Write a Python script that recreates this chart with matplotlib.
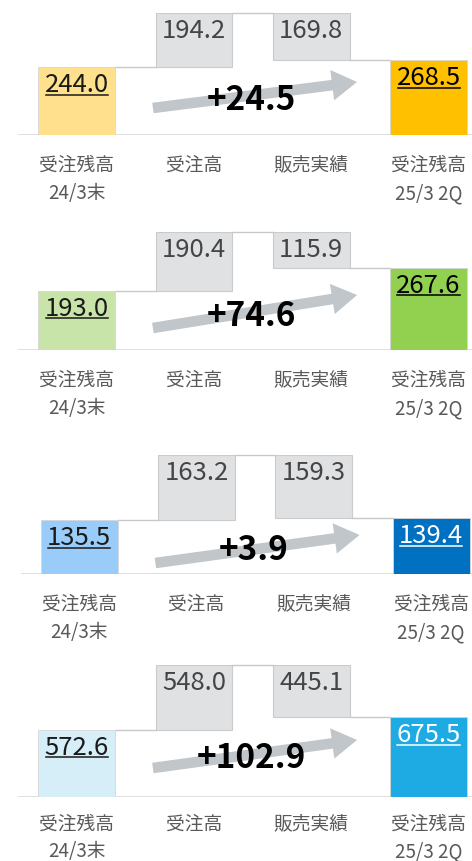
import matplotlib.pyplot as plt
from matplotlib.lines import Line2D
from matplotlib.transforms import IdentityTransform

plt.rcParams['font.family'] = ['Noto Sans CJK JP', 'DejaVu Sans']

# data (one row per panel)
categories = ['受注残高\n24/3末', '受注高', '販売実績', '受注残高\n25/3 2Q']
start_vals = [244.0, 193.0, 135.5, 572.6]   # 受注残高 24/3末
order_vals = [194.2, 190.4, 163.2, 548.0]   # 受注高
sales_vals = [169.8, 115.9, 159.3, 445.1]   # 販売実績
end_vals = [268.5, 267.6, 139.4, 675.5]     # 受注残高 25/3 2Q
delta_labels = ['+24.5', '+74.6', '+3.9', '+102.9']

# styles
light_colors = ['#FFE08C', '#C9E4A8', '#99CCF9', '#D5EEF8']
dark_colors = ['#FFC000', '#92D050', '#0070C0', '#1EABE3']
end_text_colors = ['black', 'black', 'white', 'white']
gray_fill = '#DFE1E3'
gray_edge = '#C9CBCD'

W, H = 472, 861
# panel layout in pixels: baseline y, top y, x shift
baselines = [135, 350, 574, 797]
tops = [13, 232, 455, 665]
shifts = [0, 0, 2.5, 0]
arrow_tail = [27, 22, 11, 29]   # px above baseline
arrow_tip = [53, 55, 39, 57]
delta_y = [35, 33, 24, 39]
label_pad = [14, 14, 14, 12]    # points below baseline
label_spacing = [1.5, 1.5, 1.5, 1.42]

fig = plt.figure(figsize=(W / 100, H / 100), dpi=100)
bw = 0.655
underlined = []

for p in range(4):
    base, top, s = baselines[p], tops[p], shifts[p]
    ax = fig.add_axes([(18 + s) / W, (H - base) / H, 454 / W, (base - top) / H])
    start, orders, sales, end = start_vals[p], order_vals[p], sales_vals[p], end_vals[p]
    peak = start + orders
    ax.set_xlim(-0.5, 3.37)
    ax.set_ylim(0, peak)
    ax.axis('off')

    ax.axhline(0, color='#D9D9D9', lw=1.2, zorder=1)
    ax.bar(0, start, width=bw, color=light_colors[p], edgecolor='#D6D6D6', lw=0.6, zorder=2)
    ax.bar(1, orders, bottom=start, width=bw, color=gray_fill, edgecolor=gray_edge, lw=0.8, zorder=2)
    ax.bar(2, sales, bottom=peak - sales, width=bw, color=gray_fill, edgecolor=gray_edge, lw=0.8, zorder=2)
    ax.bar(3, end, width=bw, color=dark_colors[p], edgecolor='#D6D6D6', lw=0.6, zorder=2)

    # connectors
    for x0, y in [(0, start), (1, peak), (2, peak - sales)]:
        ax.plot([x0 + bw / 2, x0 + 1 - bw / 2], [y, y], color='#C8C8C8', lw=1, zorder=1,
                clip_on=False)

    # value labels (baseline 25 px below bar top)
    for x, y, txt, col, ul in [(0, start, start, '#1A1A1A', True),
                               (1, peak, orders, '#454545', False),
                               (2, peak, sales, '#454545', False),
                               (3, end, end, end_text_colors[p], True)]:
        t = ax.annotate(f'{txt:.1f}', xy=(x, y), xytext=(0, -18), textcoords='offset points',
                        ha='center', va='baseline', fontsize=18.5, color=col, zorder=5)
        if ul:
            underlined.append((t, ax, x, y, col))

    # arrow and change
    ax.annotate('', xy=(2.39, arrow_tip[p]), xytext=(0.65, arrow_tail[p]),
                xycoords=('data', 'axes pixels'), textcoords=('data', 'axes pixels'),
                arrowprops=dict(arrowstyle='simple,head_length=0.9,head_width=1.1,tail_width=0.38',
                                mutation_scale=20, color='#C0C6CA', lw=0, shrinkA=0, shrinkB=0),
                annotation_clip=False, zorder=3)
    ax.annotate(delta_labels[p], xy=(1.49, delta_y[p]), xycoords=('data', 'axes pixels'),
                ha='center', va='center', fontsize=24, fontweight='bold', color='black',
                annotation_clip=False, zorder=6)

    # category labels
    for i, c in enumerate(categories):
        ax.annotate(c, xy=(i, 0), xytext=(0, -label_pad[p]), textcoords='offset points',
                    ha='center', va='top', fontsize=13.5, color='#595959',
                    linespacing=label_spacing[p], annotation_clip=False)

fig.canvas.draw()
renderer = fig.canvas.get_renderer()
for t, ax, x, y, col in underlined:
    bb = t.get_window_extent(renderer)
    yb = ax.transData.transform((x, y))[1] - 25 - 2.5
    fig.add_artist(Line2D([bb.x0 + 1, bb.x1 - 1], [yb, yb], transform=IdentityTransform(),
                          color=col, lw=1.1, zorder=7))

fig.savefig('out.png', dpi=100)
